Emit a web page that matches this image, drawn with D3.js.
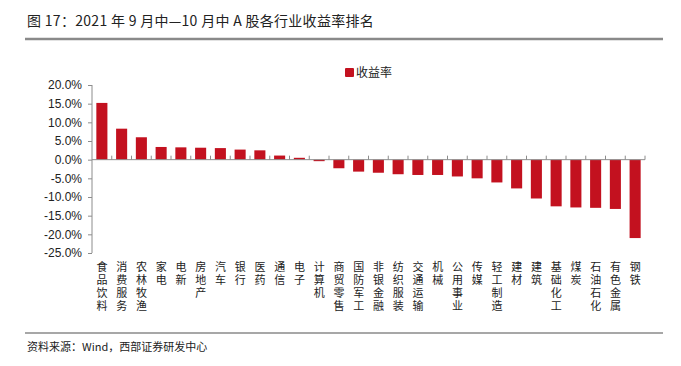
<!DOCTYPE html>
<html>
<head>
<meta charset="utf-8">
<script src="https://cdn.jsdelivr.net/npm/d3@7"></script>
<style>
  body { margin: 0; background: #fff; }
  svg { display: block; }
</style>
</head>
<body>
<svg id="chart" width="681" height="366"></svg>
<script>
'use strict';
// Data
const titleText = '图 17：2021 年 9 月中—10 月中 A 股各行业收益率排名';
const sourceText = '资料来源：Wind，西部证券研发中心';
const seriesName = '收益率';
const industries = ['食品饮料', '消费服务', '农林牧渔', '家电', '电新', '房地产', '汽车', '银行', '医药',
  '通信', '电子', '计算机', '商贸零售', '国防军工', '非银金融', '纺织服装', '交通运输', '机械',
  '公用事业', '传媒', '轻工制造', '建材', '建筑', '基础化工', '煤炭', '石油石化', '有色金属', '钢铁'];
const returns = [15.2, 8.3, 6.0, 3.4, 3.3, 3.2, 3.1, 2.7, 2.5,
  1.1, 0.5, -0.4, -2.3, -3.2, -3.5, -3.9, -4.1, -4.1,
  -4.5, -5.0, -6.1, -7.7, -10.4, -12.5, -12.8, -12.9, -13.2, -21.0];
const yTicks = [20, 15, 10, 5, 0, -5, -10, -15, -20, -25];

// Frame setup
const svg = d3.select('#chart');
const cjk = '"Noto Sans CJK SC", sans-serif';
const axisColor = '#8c8c8c';
const barColor = '#c3111f';

// Scales
const x = d3.scaleBand()
  .domain(industries)
  .range([92, 645])
  .paddingInner(0.44)
  .paddingOuter(0.22);
const y = d3.scaleLinear()
  .domain([-25, 20])
  .range([253, 85]);

// Title + rule
svg.append('text')
  .attr('x', 27).attr('y', 26)
  .attr('font-family', cjk)
  .attr('font-size', 14)
  .attr('letter-spacing', 0.3)
  .attr('fill', '#222')
  .text(titleText);
svg.append('line')
  .attr('x1', 25).attr('x2', 663)
  .attr('y1', 39).attr('y2', 39)
  .attr('stroke', '#8a8a8a').attr('stroke-width', 2.5);

// Legend
svg.append('rect')
  .attr('x', 345).attr('y', 68)
  .attr('width', 9).attr('height', 9)
  .attr('rx', 1)
  .attr('fill', barColor);
svg.append('text')
  .attr('x', 356).attr('y', 77)
  .attr('font-family', cjk)
  .attr('font-size', 12)
  .attr('fill', '#222')
  .text(seriesName);

// Bars
svg.append('g')
  .selectAll('rect')
  .data(industries)
  .join('rect')
  .attr('x', d => x(d))
  .attr('width', x.bandwidth())
  .attr('y', (d, i) => y(Math.max(0, returns[i])))
  .attr('height', (d, i) => Math.abs(y(returns[i]) - y(0)))
  .attr('fill', barColor);

// Y axis
const yAxis = svg.append('g')
  .attr('transform', 'translate(92,0)')
  .call(d3.axisLeft(y).tickValues(yTicks).tickSize(4).tickPadding(6)
    .tickFormat(d => d.toFixed(1) + '%'));
yAxis.select('.domain').attr('stroke', axisColor).attr('d', `M0,${y(20)}V${y(-25)}`);
yAxis.selectAll('.tick line').attr('stroke', axisColor);
yAxis.selectAll('.tick text')
  .attr('font-family', '"Liberation Sans", Arial, sans-serif')
  .attr('font-size', 12)
  .attr('fill', '#222');

// Zero line with category ticks
const bounds = d3.range(industries.length + 1).map(i => 92 + i * (645 - 92) / industries.length);
svg.append('line')
  .attr('x1', 92).attr('x2', 645)
  .attr('y1', y(0)).attr('y2', y(0))
  .attr('stroke', axisColor);
svg.append('g')
  .selectAll('line')
  .data(bounds.slice(1))
  .join('line')
  .attr('x1', d => d).attr('x2', d => d)
  .attr('y1', y(0) - 4).attr('y2', y(0))
  .attr('stroke', axisColor);

// Category labels, written vertically (one text per character)
const labelGroups = svg.append('g')
  .selectAll('g')
  .data(industries)
  .join('g')
  .attr('transform', d => `translate(${x(d) + x.bandwidth() / 2},0)`);
labelGroups.selectAll('text')
  .data(d => d.split(''))
  .join('text')
  .attr('x', 0)
  .attr('y', (c, i) => 271 + i * 13)
  .attr('font-family', cjk)
  .attr('font-size', 11)
  .attr('fill', '#222')
  .attr('text-anchor', 'middle')
  .text(c => c);

// Footer rule + source
svg.append('line')
  .attr('x1', 25).attr('x2', 663)
  .attr('y1', 333).attr('y2', 333)
  .attr('stroke', '#8a8a8a').attr('stroke-width', 1.5);
svg.append('text')
  .attr('x', 27).attr('y', 351)
  .attr('font-family', cjk)
  .attr('font-size', 11)
  .attr('fill', '#222')
  .text(sourceText);
</script>
</body>
</html>
